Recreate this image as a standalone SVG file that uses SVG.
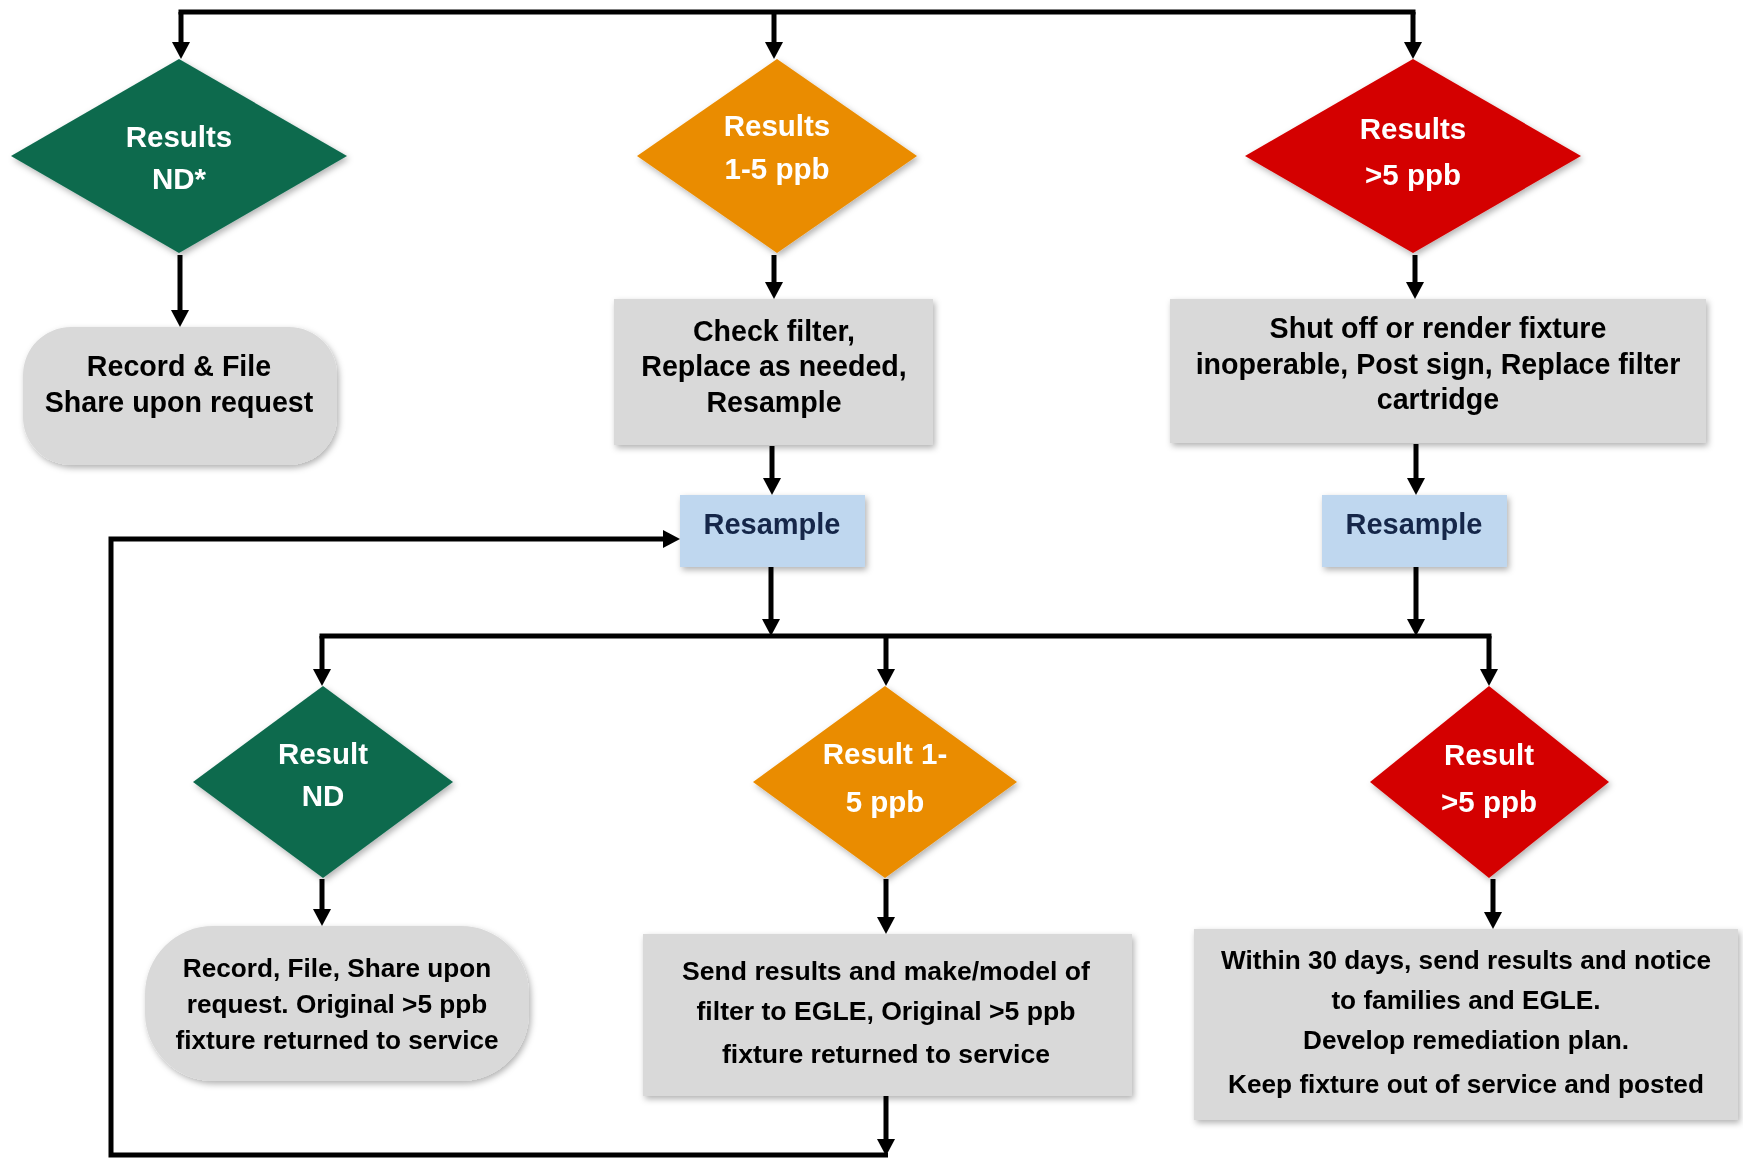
<svg xmlns="http://www.w3.org/2000/svg" width="1743" height="1159" viewBox="0 0 1743 1159">
<defs>
<filter id="sh" x="-10%" y="-10%" width="130%" height="130%">
<feDropShadow dx="2" dy="3" stdDeviation="3" flood-color="#000" flood-opacity="0.3"/>
</filter>
<marker id="ah" markerUnits="userSpaceOnUse" markerWidth="18" markerHeight="18" viewBox="0 0 17 18" refX="9" refY="9" orient="auto">
<path d="M0,0 L17,9 L0,18 z" fill="#000"/>
</marker>
</defs>
<style>
.c{fill:none;stroke:#000;stroke-width:5}
.a{marker-end:url(#ah)}
.g{fill:#0b6a4e}
.o{fill:#ea8c00}
.r{fill:#d40000}
.box{fill:#d9d9d9}
.blue{fill:#bfd7ef}
text{font-family:"Liberation Sans",Arial,sans-serif;font-weight:bold;text-anchor:middle}
.dl{fill:#fff;font-size:29.5px}
.t1{fill:#000;font-size:28.6px}
.t2{fill:#000;font-size:26.2px}
.rs{fill:#14284a;font-size:29px}
</style>
<rect width="1743" height="1159" fill="#fff"/>

<g id="connectors">
<path class="c" d="M178.5,12 H1415.5"/>
<path class="c a" d="M181,12 V51"/>
<path class="c a" d="M774,12 V51"/>
<path class="c a" d="M1413,12 V51"/>
<path class="c a" d="M180,255 V319"/>
<path class="c a" d="M774,255 V291"/>
<path class="c a" d="M1415,255 V291"/>
<path class="c a" d="M772,446 V487"/>
<path class="c a" d="M1416,444 V487"/>
<path class="c a" d="M771,567 V628"/>
<path class="c a" d="M1416,567 V628"/>
<path class="c" d="M319.5,636 H1491.5"/>
<path class="c a" d="M322,636 V678"/>
<path class="c a" d="M886,636 V678"/>
<path class="c a" d="M1489,636 V678"/>
<path class="c a" d="M322,879 V918"/>
<path class="c a" d="M886,879 V926"/>
<path class="c a" d="M1493,879 V921"/>
<path class="c a" d="M886,1096 V1148"/>
<path class="c a" d="M888,1155 H111 V539 H672"/>
</g>

<g id="d1" filter="url(#sh)">
<polygon class="g" points="179,59 347,156 179,253 11,156"/>
<text class="dl" x="179" y="146.5">Results</text>
<text class="dl" x="179" y="189">ND*</text>
</g>
<g id="d2" filter="url(#sh)">
<polygon class="o" points="777,59 917,156 777,253 637,156"/>
<text class="dl" x="777" y="136">Results</text>
<text class="dl" x="777" y="179">1-5 ppb</text>
</g>
<g id="d3" filter="url(#sh)">
<polygon class="r" points="1413,59 1581,156 1413,253 1245,156"/>
<text class="dl" x="1413" y="139">Results</text>
<text class="dl" x="1413" y="184.5">&gt;5 ppb</text>
</g>

<g id="b1" filter="url(#sh)">
<rect class="box" x="23" y="327" width="314" height="138" rx="48" ry="48"/>
<text class="t1" x="179" y="376">Record &amp; File</text>
<text class="t1" x="179" y="412">Share upon request</text>
</g>
<g id="b2" filter="url(#sh)">
<rect class="box" x="614" y="299" width="319" height="146"/>
<text class="t1" x="774" y="340.5">Check filter,</text>
<text class="t1" x="774" y="376">Replace as needed,</text>
<text class="t1" x="774" y="411.5">Resample</text>
</g>
<g id="b3" filter="url(#sh)">
<rect class="box" x="1170" y="299" width="536" height="144"/>
<text class="t1" x="1438" y="338">Shut off or render fixture</text>
<text class="t1" x="1438" y="374">inoperable, Post sign, Replace filter</text>
<text class="t1" x="1438" y="409">cartridge</text>
</g>

<g id="rs1" filter="url(#sh)">
<rect class="blue" x="680" y="495" width="185" height="72"/>
<text class="rs" x="772" y="534">Resample</text>
</g>
<g id="rs2" filter="url(#sh)">
<rect class="blue" x="1322" y="495" width="185" height="72"/>
<text class="rs" x="1414" y="534">Resample</text>
</g>

<g id="d4" filter="url(#sh)">
<polygon class="g" points="323,686 453,782 323,878 193,782"/>
<text class="dl" x="323" y="764">Result</text>
<text class="dl" x="323" y="806">ND</text>
</g>
<g id="d5" filter="url(#sh)">
<polygon class="o" points="885,686 1017,782 885,878 753,782"/>
<text class="dl" x="885" y="764">Result 1-</text>
<text class="dl" x="885" y="812">5 ppb</text>
</g>
<g id="d6" filter="url(#sh)">
<polygon class="r" points="1489,686 1609,782 1489,878 1370,782"/>
<text class="dl" x="1489" y="765">Result</text>
<text class="dl" x="1489" y="812">&gt;5 ppb</text>
</g>

<g id="b4" filter="url(#sh)">
<rect class="box" x="145" y="926" width="384" height="155" rx="68" ry="68"/>
<text class="t2" x="337" y="977">Record, File, Share upon</text>
<text class="t2" x="337" y="1013">request. Original &gt;5 ppb</text>
<text class="t2" x="337" y="1049">fixture returned to service</text>
</g>
<g id="b5" filter="url(#sh)">
<rect class="box" x="643" y="934" width="489" height="162"/>
<text class="t2" x="886" y="980" style="font-size:26.6px">Send results and make/model of</text>
<text class="t2" x="886" y="1020" style="font-size:26.6px">filter to EGLE, Original &gt;5 ppb</text>
<text class="t2" x="886" y="1063" style="font-size:26.6px">fixture returned to service</text>
</g>
<g id="b6" filter="url(#sh)">
<rect class="box" x="1194" y="929" width="544" height="191"/>
<text class="t2" x="1466" y="969">Within 30 days, send results and notice</text>
<text class="t2" x="1466" y="1009">to families and EGLE.</text>
<text class="t2" x="1466" y="1049">Develop remediation plan.</text>
<text class="t2" x="1466" y="1093">Keep fixture out of service and posted</text>
</g>
</svg>
